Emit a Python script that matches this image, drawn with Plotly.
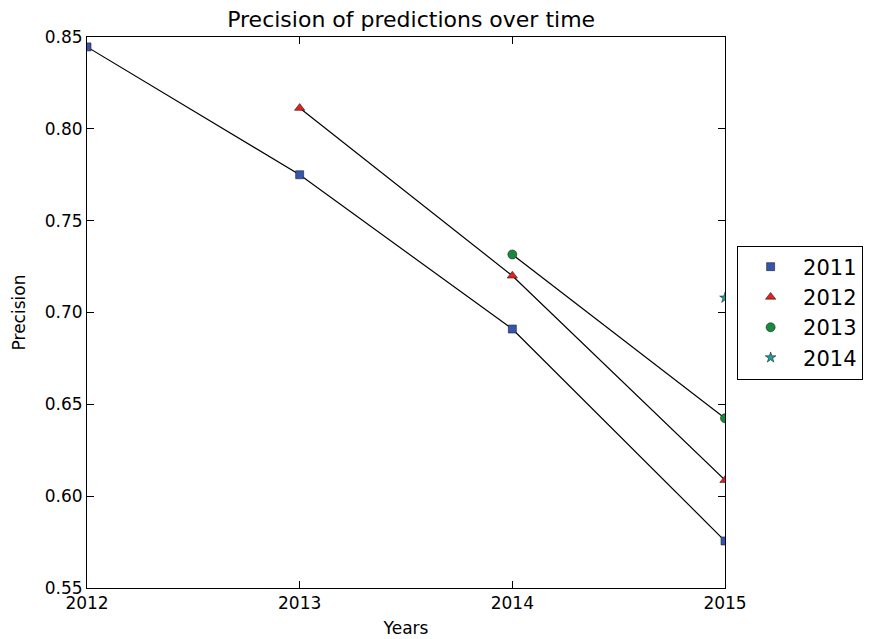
import plotly.graph_objects as go

years = [2012, 2013, 2014, 2015]

# precision of the models trained on each year, evaluated on later years
x_2011 = [2012, 2013, 2014, 2015]
y_2011 = [0.8446, 0.775, 0.691, 0.5756]
x_2012 = [2013, 2014, 2015]
y_2012 = [0.8113, 0.720, 0.6087]
x_2013 = [2014, 2015]
y_2013 = [0.7316, 0.6424]
x_2014 = [2015]
y_2014 = [0.708]

series = [
    ("2011", x_2011, y_2011, "square", "#3456b0", 8),
    ("2012", x_2012, y_2012, "triangle-up", "#e41f1f", 9),
    ("2013", x_2013, y_2013, "circle", "#178a3c", 9),
    ("2014", x_2014, y_2014, "star", "#17a2a2", 8),
]

fig = go.Figure()
for name, xs, ys, sym, col, size in series:
    fig.add_trace(go.Scatter(x=xs, y=ys, mode="lines", showlegend=False,
                             line=dict(color="black", width=1.2), hoverinfo="skip"))
for name, xs, ys, sym, col, size in series:
    fig.add_trace(go.Scatter(x=xs, y=ys, mode="markers", name=name,
                             marker=dict(symbol=sym, color=col, size=size,
                                         line=dict(color="#222222", width=0.6))))

axis_common = dict(showgrid=False, zeroline=False, showline=True, linecolor="black",
                   linewidth=1, mirror="ticks", ticks="inside", ticklen=7,
                   tickcolor="black", tickfont=dict(size=17, color="black"),
                   automargin=False)

fig.update_xaxes(range=[2012, 2015], tickvals=years, ticktext=[str(y) for y in years],
                 title=dict(text="Years", font=dict(size=17, color="black"), standoff=9),
                 **axis_common)
fig.update_yaxes(range=[0.55, 0.85], dtick=0.05, tickformat=".2f",
                 title=dict(text="Precision", font=dict(size=17, color="black"), standoff=14),
                 **axis_common)

fig.update_layout(
    width=867, height=631,
    margin=dict(l=79, r=150, t=29, b=51, autoexpand=False),
    paper_bgcolor="white", plot_bgcolor="white",
    font=dict(family="DejaVu Sans", color="black"),
    title=dict(text="Precision of predictions over time", x=0.465, xanchor="center",
               y=0.995, yanchor="top", font=dict(size=22, color="black")),
    legend=dict(x=1.019, y=0.5, xanchor="left", yanchor="middle",
                bordercolor="black", borderwidth=1, bgcolor="white",
                font=dict(size=21, color="black"), itemwidth=55,
                tracegroupgap=5),
)

fig.write_html("out.html")
